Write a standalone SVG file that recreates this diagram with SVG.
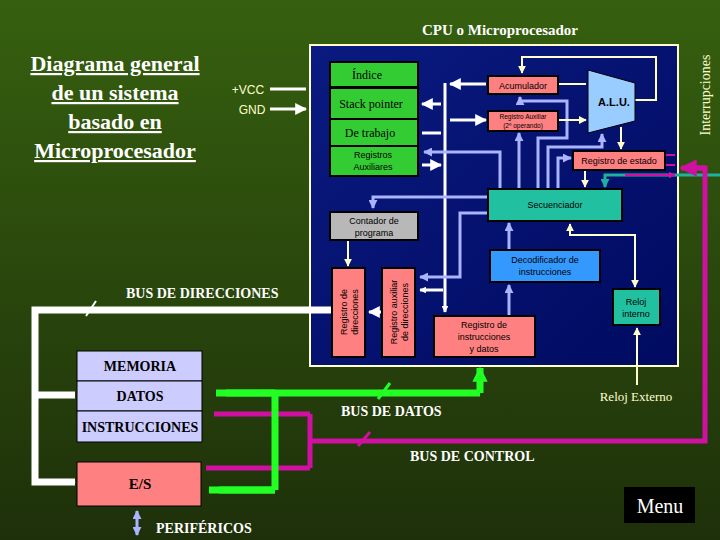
<svg xmlns="http://www.w3.org/2000/svg" width="720" height="540" viewBox="0 0 720 540">
<defs>
<linearGradient id="bg" x1="0" y1="0" x2="0" y2="1"><stop offset="0" stop-color="#36600f"/><stop offset="1" stop-color="#1e300a"/></linearGradient>
<linearGradient id="cpu" x1="0" y1="0" x2="1" y2="1"><stop offset="0" stop-color="#0a1a80"/><stop offset="1" stop-color="#000a60"/></linearGradient>
<marker id="aw" viewBox="0 0 10 10" refX="9" refY="5" markerWidth="4" markerHeight="4" orient="auto-start-reverse"><path d="M0 0L10 5L0 10z" fill="#ffffff"/></marker>
<marker id="ab" viewBox="0 0 10 10" refX="9" refY="5" markerWidth="3" markerHeight="3" orient="auto-start-reverse"><path d="M0 0L10 5L0 10z" fill="#aab4ff"/></marker>
<marker id="ay" viewBox="0 0 10 10" refX="9" refY="5" markerWidth="4" markerHeight="4" orient="auto-start-reverse"><path d="M0 0L10 5L0 10z" fill="#ffffcc"/></marker>
<marker id="am" viewBox="0 0 10 10" refX="9" refY="5" markerWidth="3.5" markerHeight="3.5" orient="auto-start-reverse"><path d="M0 0L10 5L0 10z" fill="#d010a0"/></marker>
<marker id="at" viewBox="0 0 10 10" refX="9" refY="5" markerWidth="3" markerHeight="3" orient="auto-start-reverse"><path d="M0 0L10 5L0 10z" fill="#20b0a0"/></marker>
<marker id="ag" viewBox="0 0 10 10" refX="9" refY="5" markerWidth="2.2" markerHeight="2.2" orient="auto-start-reverse"><path d="M0 0L10 5L0 10z" fill="#22ff22"/></marker>
<marker id="aW" viewBox="0 0 10 10" refX="9" refY="5" markerWidth="2.2" markerHeight="2.2" orient="auto-start-reverse"><path d="M0 0L10 5L0 10z" fill="#ffffff"/></marker>
</defs>
<style>
.s{font-family:"Liberation Sans",Arial,sans-serif;font-size:9px;fill:#000;text-anchor:middle}
.r{font-family:"Liberation Serif","Times New Roman",serif;text-anchor:middle}
.bd{stroke:#000;stroke-width:2}
.w{stroke:#fff;stroke-width:3;fill:none}
.b{stroke:#aab4ff;stroke-width:3;fill:none}
.y{stroke:#ffffcc;stroke-width:2;fill:none}
.m{stroke:#d010a0;stroke-width:5;fill:none}
.g{stroke:#22ff22;stroke-width:7;fill:none}
.lab{font-family:"Liberation Serif",serif;font-weight:bold;font-size:14px;fill:#fff}
</style>
<rect width="720" height="540" fill="url(#bg)"/>
<text x="500" y="35" class="r" font-size="15" font-weight="bold" fill="#fff">CPU o Microprocesador</text>
<g class="r" font-size="22" font-weight="bold" fill="#fff" text-decoration="underline">
<text x="115" y="71">Diagrama general</text>
<text x="115" y="100">de un sistema</text>
<text x="115" y="129">basado en</text>
<text x="115" y="158">Microprocesador</text>
</g>
<text x="248" y="94" class="s" style="fill:#ffffcc;font-size:12px">+VCC</text>
<text x="252" y="114" class="s" style="fill:#ffffcc;font-size:12px">GND</text>
<rect id="cpu-box" x="310" y="45" width="368" height="321" fill="url(#cpu)" stroke="#ffffcc" stroke-width="2"/>
<text x="710" y="95" class="r" font-size="14" fill="#ffffcc" transform="rotate(-90 710 95)">Interrupciones</text>
<g id="connectors">
<path d="M270 89H306M270 109H306" class="w" stroke-width="2" marker-end="url(#aw)"/>
<path d="M445 83V312" class="w" stroke-width="4" marker-end="url(#aW)"/>
<path d="M450 84H486M450 120H486" class="w" marker-start="url(#aw)" marker-end="url(#aw)"/>
<path d="M422 104H441M422 133H441M422 165H441" class="w" stroke-width="2" marker-start="url(#aw)" marker-end="url(#aw)"/>
<path d="M443 290H420" class="w" stroke-width="4" marker-end="url(#aW)"/>
<path d="M381 312H369" class="w" stroke-width="2" marker-end="url(#aw)"/>
<path d="M332 310H35V482H75M35 395H75" stroke="#fff" stroke-width="7" fill="none"/>
<path d="M50 395H75M50 482H75" class="w" stroke-width="7" marker-end="url(#aW)"/>
<path d="M86 316L96 301" stroke="#fff" stroke-width="2"/>
<path d="M500 189V152H424" class="b" marker-end="url(#ab)"/>
<path d="M519 189V133" class="b" marker-end="url(#ab)"/>
<path d="M538 189V138H567V101H520V97" class="b" marker-end="url(#ab)"/>
<path d="M548 189V147H602V134" class="b" marker-end="url(#ab)"/>
<path d="M558 189V158H571" class="b" marker-end="url(#ab)"/>
<path d="M488 197H373V208" class="b" marker-end="url(#ab)"/>
<path d="M488 213H460V277H420" class="b" marker-end="url(#ab)"/>
<path d="M509 250V223" class="b" marker-end="url(#ab)"/>
<path d="M509 316V285" class="b" marker-end="url(#ab)"/>
<path d="M558 84H586M558 120H586" class="y" marker-end="url(#ay)"/>
<path d="M635 100H656V57H522V73" class="y" marker-end="url(#ay)"/>
<path d="M621 127V149" class="y" marker-end="url(#ay)"/>
<path d="M585 170V187" class="y" marker-end="url(#ay)"/>
<path d="M570 224V235H635V287" class="y" marker-start="url(#ay)" marker-end="url(#ay)"/>
<path d="M348 240V266" class="y" marker-end="url(#ay)"/>
<path d="M637 385V328" class="y" stroke-width="3" marker-end="url(#ay)"/>
<path d="M720 175H605V187" stroke="#20b0a0" stroke-width="3" fill="none" marker-end="url(#at)"/>
<path d="M625 155H675M625 165H675M625 175H675" stroke="#d010a0" stroke-width="2" fill="none" marker-start="url(#am)" marker-end="url(#am)"/>
<path d="M310 414V468M310 441H705V168H686" class="m"/>
<path d="M310 414H214M310 468H206M705 168H681" class="m" marker-end="url(#am)"/>
<path d="M358 446L370 432" stroke="#d010a0" stroke-width="3"/>
<path d="M480 393H275V490M275 393H226M275 490H219" class="g"/>
<path d="M275 393H216M275 490H209M480 393V368" class="g" marker-end="url(#ag)"/>
<path d="M378 399L390 383" stroke="#22ff22" stroke-width="3"/>
<path d="M137 511V535" stroke="#aab4ff" stroke-width="3" marker-start="url(#ab)" marker-end="url(#ab)"/>
</g>
<g id="regs">
<rect x="330" y="62" width="88" height="25" fill="#33cc33" class="bd"/><text x="367" y="79" class="r" font-size="12">Índice</text>
<rect x="330" y="88" width="88" height="31" fill="#33cc33" class="bd"/><text x="371" y="108" class="r" font-size="12">Stack pointer</text>
<rect x="330" y="119" width="88" height="27" fill="#33cc33" class="bd"/><text x="370" y="137" class="r" font-size="12">De trabajo</text>
<rect x="330" y="146" width="88" height="30" fill="#33cc33" class="bd"/><text x="373" y="158" class="s">Registros</text><text x="373" y="170" class="s">Auxiliares</text>
</g>
<g id="acumulador"><rect x="488" y="76" width="70" height="18" fill="#ff8080" class="bd"/><text x="523" y="89" class="s">Acumulador</text></g>
<g id="reg-aux"><rect x="488" y="111" width="70" height="20" fill="#ff8080" class="bd"/><text x="523" y="119" class="s" style="font-size:6.5px">Registro Auxiliar</text><text x="523" y="128" class="s" style="font-size:6.5px">(2º operando)</text></g>
<g id="alu"><path d="M588 70L635 83V121L588 133Z" fill="#99ccff" stroke="#000"/><text x="614" y="106" class="s" style="font-size:11px;font-weight:bold">A.L.U.</text></g>
<g id="reg-estado"><rect x="573" y="151" width="92" height="19" fill="#ff8080" class="bd"/><text x="619" y="164" class="s">Registro de estado</text></g>
<g id="secuenciador"><rect x="488" y="189" width="134" height="32" fill="#20c0a0" class="bd"/><text x="555" y="208" class="s">Secuenciador</text></g>
<g id="contador"><rect x="330" y="212" width="88" height="28" fill="#b8b8b8" class="bd"/><text x="374" y="224" class="s">Contador de</text><text x="374" y="236" class="s">programa</text></g>
<g id="reg-dir"><rect x="332" y="268" width="33" height="89" fill="#ff8080" class="bd"/><text transform="translate(347 312) rotate(-90)" class="s">Registro de</text><text transform="translate(358 312) rotate(-90)" class="s">direcciones</text></g>
<g id="reg-aux-dir"><rect x="382" y="268" width="33" height="89" fill="#ff8080" class="bd"/><text transform="translate(397 312) rotate(-90)" class="s">Registro auxiliar</text><text transform="translate(408 312) rotate(-90)" class="s">de direcciones</text></g>
<g id="decodificador"><rect x="490" y="250" width="110" height="32" fill="#3399ff" class="bd"/><text x="545" y="263" class="s">Decodificador de</text><text x="545" y="275" class="s">instrucciones</text></g>
<g id="reg-instr"><rect x="434" y="316" width="101" height="41" fill="#ff8080" class="bd"/><text x="484" y="328" class="s">Registro de</text><text x="484" y="340" class="s">instrucciones</text><text x="484" y="352" class="s">y datos</text></g>
<g id="reloj"><rect x="613" y="289" width="47" height="36" fill="#20c0a0" class="bd"/><text x="636" y="305" class="s">Reloj</text><text x="636" y="317" class="s">interno</text></g>
<g id="memoria">
<rect x="77" y="351" width="125" height="30" fill="#ccccff" stroke="#000"/><text x="140" y="371" class="r" font-size="14" font-weight="bold">MEMORIA</text>
<rect x="77" y="381" width="125" height="30" fill="#ccccff" stroke="#000"/><text x="140" y="401" class="r" font-size="14" font-weight="bold">DATOS</text>
<rect x="77" y="411" width="125" height="31" fill="#ccccff" stroke="#000"/><text x="140" y="432" class="r" font-size="14" font-weight="bold">INSTRUCCIONES</text>
</g>
<g id="es"><rect x="77" y="462" width="124" height="44" fill="#ff8080" stroke="#000"/><text x="140" y="489" class="r" font-size="15" font-weight="bold">E/S</text></g>
<text x="156" y="533" class="lab">PERIFÉRICOS</text>
<text x="126" y="298" class="lab">BUS DE DIRECCIONES</text>
<text x="341" y="416" class="lab">BUS DE DATOS</text>
<text x="410" y="461" class="lab">BUS DE CONTROL</text>
<text x="636" y="401" class="r" font-size="13" fill="#ffffcc">Reloj Externo</text>
<g id="menu"><rect x="624" y="487" width="71" height="36" fill="#000"/><text x="660" y="513" class="r" font-size="20" fill="#fff">Menu</text></g>
</svg>
